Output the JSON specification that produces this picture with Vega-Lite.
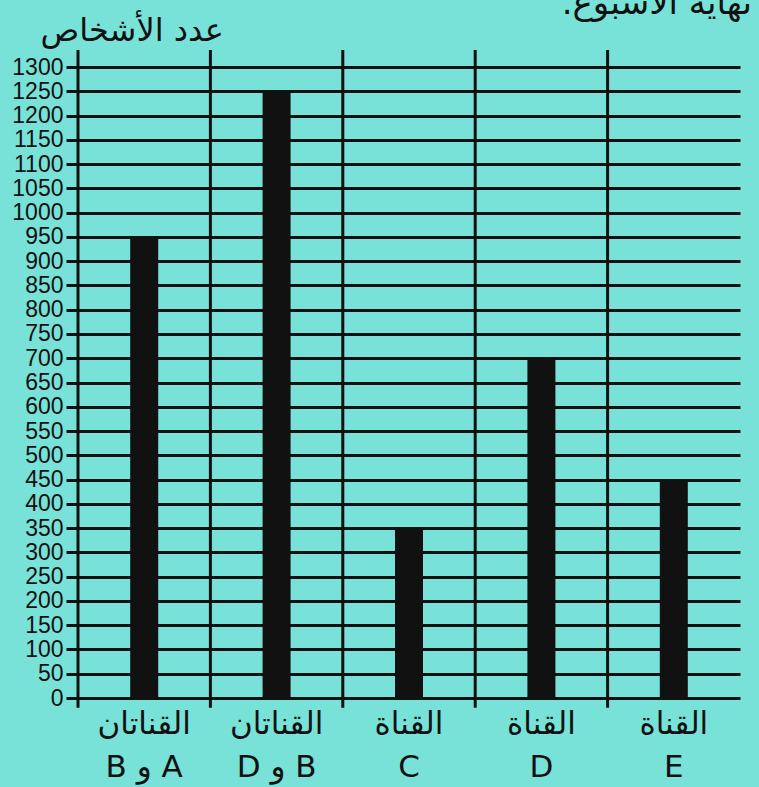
{
  "$schema": "https://vega.github.io/schema/vega-lite/v6.json",
  "width": 662,
  "height": 631,
  "autosize": {"type": "none"},
  "padding": {"left": 78, "top": 67, "right": 19, "bottom": 89},
  "background": "#78e2d8",
  "title": {
    "text": ".نهاية الأسبوع",
    "anchor": "end",
    "frame": "group",
    "orient": "top",
    "baseline": "alphabetic",
    "offset": -34,
    "dx": 12,
    "font": "DejaVu Sans",
    "fontSize": 34,
    "fontWeight": "normal",
    "color": "#111111"
  },
  "config": {
    "view": {"stroke": null},
    "axis": {"labelColor": "#111111", "titleColor": "#111111"},
    "axisY": {
      "values": [0, 50, 100, 150, 200, 250, 300, 350, 400, 450, 500, 550, 600, 650, 700, 750, 800, 850, 900, 950, 1000, 1050, 1100, 1150, 1200, 1250, 1300],
      "format": "d",
      "labelOverlap": false,
      "grid": true,
      "gridColor": "#111111",
      "gridWidth": 3,
      "gridOpacity": 1,
      "domain": false,
      "ticks": true,
      "tickSize": 12,
      "tickWidth": 3,
      "tickColor": "#111111",
      "labelFont": "Liberation Sans",
      "labelFontSize": 23,
      "labelPadding": 3,
      "titleAngle": 0,
      "titleAlign": "left",
      "titleBaseline": "alphabetic",
      "titleX": -38,
      "titleY": -27,
      "titleFont": "DejaVu Sans",
      "titleFontSize": 32,
      "titleFontWeight": "normal"
    }
  },
  "data": {
    "values": [
      {"channel": "القناتان|B و A", "people": 950},
      {"channel": "القناتان|D و B", "people": 1250},
      {"channel": "القناة|C", "people": 350},
      {"channel": "القناة|D", "people": 700},
      {"channel": "القناة|E", "people": 450}
    ]
  },
  "encoding": {
    "x": {
      "field": "channel",
      "type": "nominal",
      "sort": null,
      "scale": {"paddingInner": 0, "paddingOuter": 0},
      "axis": {
        "title": null,
        "domain": false,
        "ticks": false,
        "grid": false,
        "labelAngle": 0,
        "labelExpr": "split(datum.label, '|')",
        "labelFont": "DejaVu Sans",
        "labelFontSize": 31,
        "labelLineHeight": 43,
        "labelPadding": 11,
        "labelBaseline": "top"
      }
    }
  },
  "layer": [
    {
      "mark": {"type": "bar", "color": "#111111", "width": 28},
      "encoding": {
        "y": {
          "field": "people",
          "type": "quantitative",
          "scale": {"domain": [0, 1300], "nice": false, "zero": true},
          "axis": {"title": "عدد الأشخاص", "values": [0, 50, 100, 150, 200, 250, 300, 350, 400, 450, 500, 550, 600, 650, 700, 750, 800, 850, 900, 950, 1000, 1050, 1100, 1150, 1200, 1250, 1300]}
        }
      }
    },
    {
      "mark": {"type": "rule", "color": "#111111", "strokeWidth": 3},
      "encoding": {
        "x": {"field": "channel", "type": "nominal", "sort": null, "bandPosition": 0},
        "y": {"datum": 1335, "axis": {"title": "عدد الأشخاص", "values": [0, 50, 100, 150, 200, 250, 300, 350, 400, 450, 500, 550, 600, 650, 700, 750, 800, 850, 900, 950, 1000, 1050, 1100, 1150, 1200, 1250, 1300]}},
        "y2": {"datum": -20}
      }
    }
  ]
}
